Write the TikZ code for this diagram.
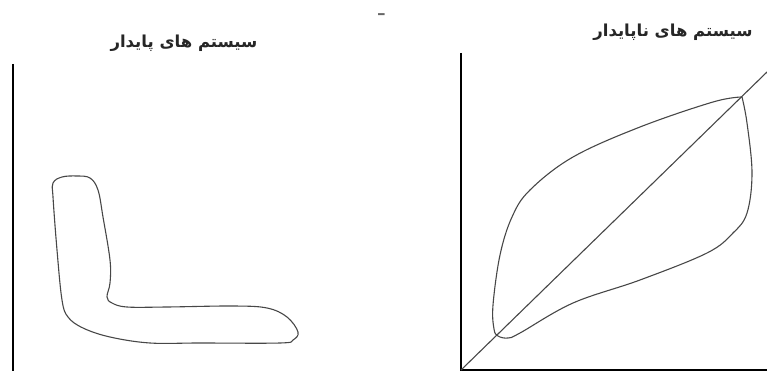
\documentclass[tikz,border=0pt]{standalone}
\usepackage{fontspec}
\newfontfamily\arabicfont[Script=Arabic]{DejaVu Sans}
\TeXXeTstate=1
\usetikzlibrary{positioning}

\begin{document}
\begin{tikzpicture}[x=1pt, y=-1pt,
    axis/.style={line width=2pt, black},
    curve/.style={line width=1.1pt, black!72, line join=round},
    title/.style={font=\arabicfont\bfseries\fontsize{16.5}{18}\selectfont, text=black!85, inner sep=0pt}
]
\useasboundingbox (0,0) rectangle (767,371);

% titles
\node[title] (stable) at (184,43) {\beginR سیستم های پایدار\endR};
\node[title] (unstable) at (673,32) {\beginR سیستم های ناپایدار\endR};
\node[font=\bfseries\fontsize{22}{22}\selectfont, text=black!60, inner sep=0pt] (dash) at (382,17) {-};

% stable system
\draw[axis] (12.5,64) -- (12.5,371);
\draw[curve] plot[smooth cycle, tension=0.6] coordinates {
  (53,183) (62,177) (77,176) (90,178) (98,190) (103,217) (110,260) (110,283)
  (107,297) (112,303) (127,307) (167,307) (233,306) (267,308) (287,317)
  (298,332) (293,340) (280,343) (200,343) (150,343) (110,337) (83,328)
  (68,317) (62,300) (57,250) (53,197)};

% unstable system
\coordinate (o) at (461,370);
\coordinate (top) at (742,97);
\coordinate (far) at (767,72);
\draw[axis] (461,53) -- (o) -- (767,370);
\draw[curve] (o) -- (far);
\draw[curve] plot[smooth, tension=0.6] coordinates {
  (top) (713,102) (640,127) (573,157) (530,190) (512,217) (500,255) (493,305)
  (494,329) (498,336) (508,338) (520,333) (573,303) (640,280) (707,253)
  (733,233) (747,213) (752,173) (747,123) (top)};
\end{tikzpicture}
\end{document}
